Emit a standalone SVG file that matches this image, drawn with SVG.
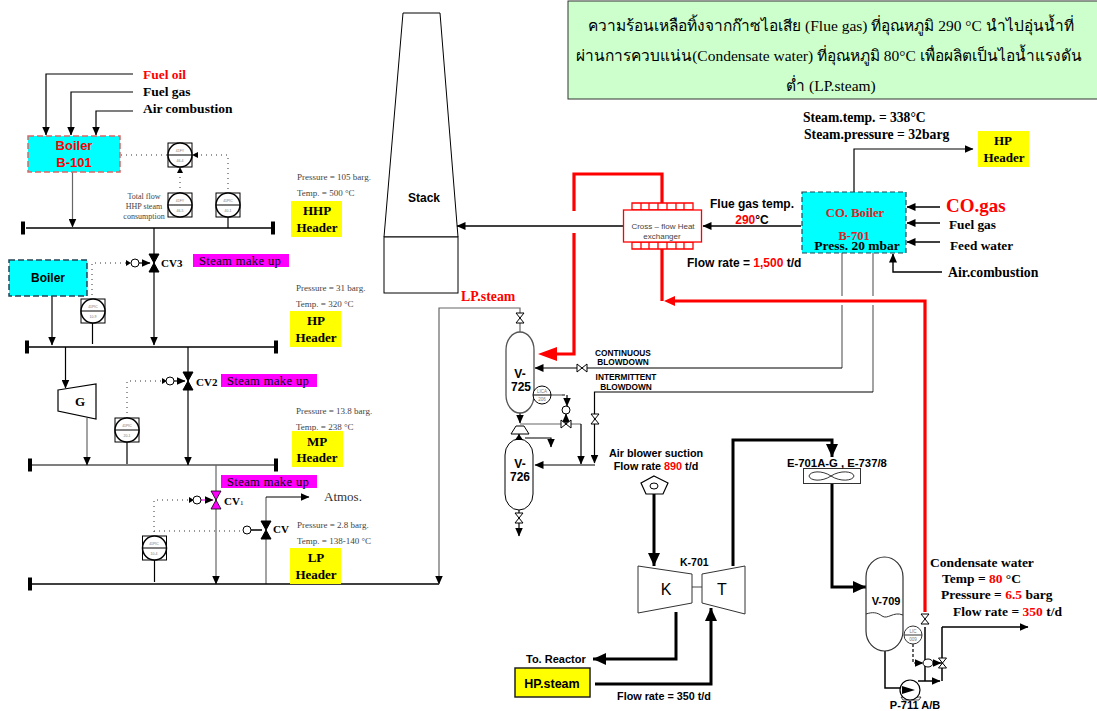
<svg xmlns="http://www.w3.org/2000/svg" width="1097" height="711" viewBox="0 0 1097 711">
<style>
text{font-family:"Liberation Serif",serif;fill:#000}
.a{font-family:"Liberation Sans",Arial,sans-serif;font-weight:700}
.s{font-family:"Liberation Serif",serif;font-weight:700}
.c{text-anchor:middle}
.r{fill:#f00}
.p{font-size:9px;fill:#444}
.h{font-size:13px;font-weight:700;text-anchor:middle}
.sm{font-size:12.5px;letter-spacing:.4px}
.l{fill:none;stroke:#000;stroke-width:1.2}
.g{fill:none;stroke:#666;stroke-width:1.2}
.b{fill:none;stroke:#000;stroke-width:3}
.rd{fill:none;stroke:#f00;stroke-width:3.2}
.d{fill:none;stroke:#333;stroke-width:1;stroke-dasharray:1 4}
.e{fill:#000;stroke:none}
.y{fill:#ff0}
.m{fill:#f0f}
.it{font-family:"Liberation Sans",sans-serif;font-size:3.5px;fill:#777;text-anchor:middle}
</style>
<defs>
<marker id="ah" markerWidth="10" markerHeight="8" refX="8.5" refY="4" orient="auto" markerUnits="userSpaceOnUse"><path d="M0,0L9,4L0,8Z"/></marker>
<marker id="ab" markerWidth="16" markerHeight="14" refX="13" refY="6" orient="auto" markerUnits="userSpaceOnUse"><path d="M0,0L13,6L0,12Z"/></marker>
<g id="inst"><rect x="-12" y="-12" width="24" height="24" fill="#fff" stroke="#000"/><circle r="12" fill="#fff" stroke="#000" stroke-width="1.500"/><path d="M-12,0H12" stroke="#000"/></g>
<g id="vv"><path d="M-5,-9L5,-9L-5,9L5,9Z" fill="#000" stroke="#000"/></g>
<g id="vw"><path d="M-4,-5L4,-5L-4,5L4,5Z" fill="#fff" stroke="#000"/></g>
<g id="end"><rect x="-2" y="-6.500" width="4" height="13" fill="#000"/></g>
</defs>
<rect width="1097" height="711" fill="#fff"/>

<g id="stack"><path d="M403,13H440L458,237H384Z" fill="#fff" stroke="#000"/><rect x="384" y="237" width="74" height="56" fill="#fff" stroke="#000"/><text class="a c" x="424" y="202" font-size="12">Stack</text></g>

<g id="connectors">
<path class="l" marker-end="url(#ah)" d="M133,74H46V135"/>
<path class="l" marker-end="url(#ah)" d="M133,92H71V135"/>
<path class="l" marker-end="url(#ah)" d="M133,111H96V135"/>
<path class="g" marker-end="url(#ah)" d="M72.500,172V227"/>
<path class="l" d="M228,217V228"/>
<path class="l" style="stroke-width:1.500" d="M26,228H271"/>
<path class="l" marker-end="url(#ah)" d="M154,228V345"/>
<path class="d" d="M228,189V155H193"/>
<path class="e" d="M192,155l6,-3v6z"/>
<path class="d" d="M180,193V168"/>
<path class="e" d="M180,167l3,6h-6z"/>
<path class="d" d="M167,155H113"/>
<path class="e" d="M111,155l6,-3v6z"/>
<path class="d" d="M92,300V263H127"/>
<path class="e" d="M131,263l-5,-3v6z"/>
<path class="l" marker-end="url(#ah)" d="M139,263H150"/>
<path class="l" marker-end="url(#ah)" d="M52,296V345"/>
<path class="l" d="M92.500,322V344"/>
<path class="l" style="stroke-width:1.500" d="M29,347H274"/>
<path class="l" marker-end="url(#ah)" d="M65.500,347V388"/>
<path class="g" marker-end="url(#ah)" d="M87,418V465"/>
<path class="l" d="M127,441V464"/>
<path class="d" d="M127,418V381H163"/>
<path class="e" d="M167,381l-5,-3v6z"/>
<path class="l" marker-end="url(#ah)" d="M174,381H185"/>
<path class="l" marker-end="url(#ah)" d="M188,347V465"/>
<path class="l" d="M32,465H274"/>
<path class="g" marker-end="url(#ah)" d="M216,465V584"/>
<path class="d" d="M154,537V500H190"/>
<path class="e" d="M194,500l-5,-3v6z"/>
<path class="l" marker-end="url(#ah)" d="M201,500H213" style="stroke:#f0f"/>
<path class="d" d="M154,531H241"/>
<path class="l" style="stroke-width:1.500" d="M251,530H262"/>
<path class="l" d="M154.500,559V582"/>
<path class="g" d="M266,584V497"/>
<path class="l" marker-end="url(#ah)" d="M266,497H309"/>
<path class="l" style="stroke-width:1.500" d="M32,584H439"/>
<path class="g" marker-end="url(#ah)" d="M520,332V308H439V584"/>
<path class="rd" d="M662,203V174H574V211"/>
<path class="rd" d="M574,233V354H556"/>
<path class="e" style="fill:#f00" d="M538,354L557,347V361Z"/>
<path class="rd" d="M662,249V301"/>
<path class="rd" d="M925,612V301H675"/>
<path class="e" style="fill:#f00" d="M664,301L675,296V306Z"/>
<path class="l" marker-end="url(#ah)" d="M623,226H457" style="stroke-width:1.400"/>
<path class="l" marker-end="url(#ah)" d="M801,226H703" style="stroke-width:1.400"/>
<path class="l" marker-end="url(#ah)" d="M854,192V149H973"/>
<path class="l" marker-end="url(#ah)" d="M940,207H907" style="stroke-width:1.400"/>
<path class="l" marker-end="url(#ah)" d="M940,223H907" style="stroke-width:1.400"/>
<path class="l" marker-end="url(#ah)" d="M940,242H907" style="stroke-width:1.400"/>
<path class="l" marker-end="url(#ah)" d="M942,272H893V254" style="stroke-width:1.400"/>
<path class="g" d="M842,253V296M873,253V296M842,305V368M873,305V392"/>
<path class="l" marker-end="url(#ah)" d="M842,368H535"/>
<path class="l" marker-end="url(#ah)" d="M873,392H594.500V463"/>
<path class="l" marker-end="url(#ah)" d="M595,465H535"/>
<path class="l" marker-end="url(#ah)" d="M520,413V423"/>
<path class="g" d="M520,424H581"/>
<path class="l" marker-end="url(#ah)" d="M581,424V464"/>
<path class="g" d="M551,395H562"/>
<path class="l" stroke-dasharray="3 2" marker-end="url(#ah)" d="M562,395H567V406"/>
<path class="l" marker-end="url(#ah)" d="M566,424V414"/>
<path class="l" marker-end="url(#ah)" d="M525,438H551V447"/>
<path class="l" d="M519,434V439"/>
<path class="l" marker-end="url(#ah)" d="M519,510V536"/>
<path class="b" marker-end="url(#ab)" d="M654,494V566"/>
<path class="b" marker-end="url(#ab)" d="M733,566V440H832V457"/>
<path class="b" marker-end="url(#ab)" d="M832,483V587H866"/>
<path class="b" marker-end="url(#ab)" d="M676,612V659H593"/>
<path class="b" marker-end="url(#ab)" d="M595,684H711V608"/>
<path class="g" d="M692,587H702"/>
<path class="l" style="stroke-width:1.500" d="M885,651V688H900"/>
<path class="l" style="stroke-width:1.500" marker-end="url(#ah)" d="M918,681H940"/>
<path class="l" style="stroke-width:1.500" d="M925,627V681M942,681V627"/>
<path class="l" style="stroke-width:1.500" marker-end="url(#ah)" d="M942,627H1028"/>
<path class="l" stroke-dasharray="3 2" marker-end="url(#ah)" d="M913,644V663H923"/>
<path class="l" marker-end="url(#ah)" d="M933,663H941"/>
</g>

<g id="boiler-b101"><rect x="28" y="136" width="92" height="36" fill="#0ff" stroke="#d66" stroke-width="1.500" stroke-dasharray="6 3"/><text class="a c r" x="74" y="150" font-size="13">Boiler</text><text class="a c r" x="74" y="167" font-size="13">B-101</text></g>
<g id="fuel-labels"><text class="s r" x="143" y="79" font-size="13.500">Fuel oil</text><text class="s" x="143" y="96" font-size="13.500">Fuel gas</text><text class="s" x="143" y="113" font-size="13.500">Air combustion</text></g>
<g id="fy-1"><use href="#inst" x="180" y="155"/><text class="it" x="180" y="152">41FY</text><text class="it" x="180" y="162">46-4</text></g>
<g id="fy-2"><use href="#inst" x="180" y="205"/><text class="it" x="180" y="202">41FY</text><text class="it" x="180" y="212">46-5</text></g>
<g id="pic-1"><use href="#inst" x="228" y="205"/><text class="it" x="228" y="202">41PIC</text><text class="it" x="228" y="212">40-1</text></g>
<g id="total-flow"><text class="c" x="144" y="199" font-size="8" style="fill:#444">Total flow</text><text class="c" x="144" y="209" font-size="8" style="fill:#444">HHP steam</text><text class="c" x="144" y="219" font-size="8" style="fill:#444">consumption</text></g>
<g id="hhp-header"><use href="#end" x="23" y="228"/><use href="#end" x="273" y="228"/><text class="p" x="297" y="180">Pressure = 105 barg.</text><text class="p" x="297" y="196">Temp. = 500 °C</text><rect class="y" x="291" y="201" width="51" height="36"/><text class="h" x="317" y="215">HHP</text><text class="h" x="317" y="232">Header</text></g>
<g id="cv3"><use href="#vv" x="154" y="263"/><circle cx="135" cy="263" r="4" fill="#fff" stroke="#000"/><text class="s" x="161" y="267" font-size="11">CV3</text><rect class="m" x="193" y="254" width="96" height="13"/><text class="sm" x="199" y="265">Steam make up</text></g>
<g id="boiler-2"><rect x="9" y="260" width="78" height="36" fill="#0ff" stroke="#245" stroke-width="1.500" stroke-dasharray="6 3"/><text class="a c" x="48" y="282" font-size="12">Boiler</text></g>
<g id="pic-2"><use href="#inst" x="93" y="311"/><text class="it" x="93" y="308">41PIC</text><text class="it" x="93" y="318">10-9</text></g>
<g id="hp-header"><use href="#end" x="27" y="347"/><use href="#end" x="276" y="347"/><text class="p" x="296" y="291">Pressure = 31 barg.</text><text class="p" x="296" y="307">Temp. = 320 °C</text><rect class="y" x="290" y="311" width="51" height="36"/><text class="h" x="316" y="325">HP</text><text class="h" x="316" y="342">Header</text></g>
<g id="turbine-g"><path d="M58,390L96,384V419L58,411Z" fill="#fff" stroke="#000" stroke-width="1.200"/><text class="s c" x="80" y="406" font-size="13">G</text></g>
<g id="pic-3"><use href="#inst" x="127" y="430"/><text class="it" x="127" y="427">41PIC</text><text class="it" x="127" y="437">20-1</text></g>
<g id="cv2"><use href="#vv" x="188" y="381"/><circle cx="170" cy="381" r="4" fill="#fff" stroke="#000"/><text class="s" x="196" y="386" font-size="11">CV2</text><rect class="m" x="221" y="374" width="96" height="13"/><text class="sm" x="227" y="385">Steam make up</text></g>
<g id="mp-header"><use href="#end" x="30" y="465"/><use href="#end" x="276" y="465"/><text class="p" x="296" y="414">Pressure = 13.8 barg.</text><text class="p" x="296" y="430">Temp. = 238 °C</text><rect class="y" x="292" y="431" width="51" height="36"/><text class="h" x="317" y="446">MP</text><text class="h" x="317" y="462">Header</text></g>
<g id="cv1"><path d="M211,491L221,491L211,509L221,509Z" fill="#f0f" stroke="#000" stroke-width=".8"/><circle cx="197" cy="500" r="4" fill="#fff" stroke="#000"/><text class="s" x="224" y="505" font-size="11">CV<tspan font-size="7" font-weight="400">1</tspan></text><rect class="m" x="221" y="475" width="96" height="13"/><text class="sm" x="227" y="486">Steam make up</text></g>
<g id="cv"><use href="#vv" x="266" y="530"/><circle cx="247" cy="530" r="4" fill="#fff" stroke="#000"/><text class="s" x="273" y="533" font-size="11">CV</text><text x="324" y="501" font-size="13" style="fill:#333">Atmos.</text></g>
<g id="pic-4"><use href="#inst" x="154.500" y="548"/><text class="it" x="154" y="545">41PIC</text><text class="it" x="154" y="555">10-4</text></g>
<g id="lp-header"><use href="#end" x="30" y="584"/><text class="p" x="297" y="528">Pressure = 2.8 barg.</text><text class="p" x="297" y="544">Temp. = 138-140 °C</text><rect class="y" x="290" y="548" width="51" height="36"/><text class="h" x="316" y="562">LP</text><text class="h" x="316" y="579">Header</text></g>

<g id="note"><rect x="568" y="1" width="532" height="98" fill="#cfc" stroke="#333" stroke-width="1"/><text class="c" x="831" y="31" font-size="15.500">ความร้อนเหลือทิ้งจากก๊าซไอเสีย (Flue gas) ที่อุณหภูมิ 290 °C นำไปอุ่นน้ำที่</text><text class="c" x="829" y="61" font-size="15.500">ผ่านการควบแน่น(Condensate water) ที่อุณหภูมิ 80°C เพื่อผลิตเป็นไอน้ำแรงดัน</text><text class="c" x="831" y="91" font-size="15.500">ต่ำ (LP.steam)</text></g>

<g id="heat-exchanger"><path d="M632,203H693V210H632ZM632,242H693V249H632ZM641,203V210M649,203V210M658,203V210M667,203V210M676,203V210M684,203V210M641,242V249M649,242V249M658,242V249M667,242V249M676,242V249M684,242V249" fill="#fff" stroke="#f00" stroke-width="1.300"/><rect x="623.500" y="210" width="78" height="32" fill="#fff" stroke="#f00" stroke-width="1.300"/><text class="c" x="663" y="229" font-size="8" style="font-family:'Liberation Sans',sans-serif;fill:#444">Cross – flow Heat</text><text class="c" x="662" y="239" font-size="8" style="font-family:'Liberation Sans',sans-serif;fill:#444">exchanger</text></g>
<g id="flue-labels"><text class="a c" x="752" y="208" font-size="12">Flue gas temp.</text><text class="a c" x="752" y="224" font-size="12"><tspan class="r">290</tspan>°C</text><text class="a" x="687" y="267" font-size="12">Flow rate = <tspan class="r">1,500</tspan> t/d</text></g>
<g id="co-boiler"><rect x="802" y="192" width="104" height="61" fill="#0ff" stroke="#245" stroke-width="1.200" stroke-dasharray="5 3"/><text class="s c" x="855" y="217" font-size="12.700" style="fill:#d22">CO. Boiler</text><text class="s c" x="854" y="240" font-size="12.500" style="fill:#d22">B-701</text><text class="s c" x="857" y="250" font-size="13.500">Press. 20 mbar</text></g>
<g id="co-labels"><text class="s r" x="946" y="212" font-size="19">CO.gas</text><text class="s" x="949" y="229" font-size="13.300">Fuel gas</text><text class="s" x="950" y="250" font-size="13.300">Feed water</text><text class="s" x="948" y="277" font-size="13.800">Air.combustion</text></g>
<g id="steam-labels"><text class="s" x="803" y="122" font-size="13.600">Steam.temp. = 338°C</text><text class="s" x="804" y="139" font-size="13.700">Steam.pressure = 32barg</text></g>
<g id="hp-header-2"><rect class="y" x="978" y="131" width="51" height="36"/><text class="h" x="1003" y="145">HP</text><text class="h" x="1004" y="162">Header</text></g>

<g id="v-725"><rect x="506" y="332" width="28" height="81" rx="14" ry="18" fill="#fff" stroke="#555" stroke-width="1.300"/><text class="a c" x="520" y="378" font-size="12">V-</text><text class="a c" x="521" y="391" font-size="12">725</text><use href="#vw" x="520" y="318"/><text class="s r" x="461" y="301" font-size="13.800">LP.steam</text></g>
<g id="lica"><circle cx="542" cy="395" r="9" fill="#fff" stroke="#000"/><path d="M533,395H551" stroke="#000"/><text class="it" x="542" y="393" style="font-size:4.500px">LICA</text><text class="it" x="542" y="401" style="font-size:4.500px">206</text><circle cx="566" cy="410" r="4" fill="#fff" stroke="#000"/><use href="#vw" transform="translate(566,424) rotate(90)"/></g>
<g id="blowdown"><use href="#vw" transform="translate(582,368) rotate(90)"/><use href="#vw" x="595" y="419"/><text class="a c" x="623" y="356" font-size="8.300">CONTINUOUS</text><text class="a c" x="623" y="365" font-size="8.300">BLOWDOWN</text><text class="a c" x="626" y="380" font-size="8.300">INTERMITTENT</text><text class="a c" x="626" y="390" font-size="8.300">BLOWDOWN</text></g>
<g id="separator"><path d="M516,426H524L529,434H511Z" fill="#fff" stroke="#000"/></g>
<g id="v-726"><rect x="505" y="439" width="28" height="71" rx="14" ry="16" fill="#fff" stroke="#000"/><text class="a c" x="520" y="468" font-size="12">V-</text><text class="a c" x="520" y="481" font-size="12">726</text><use href="#vw" x="519" y="518"/><path class="e" d="M519,434l4,6h-8z"/></g>

<g id="air-blower"><path d="M654,476L668,483L663,494H646L641,483Z" fill="#fff" stroke="#000" stroke-width="1.200"/><ellipse cx="654" cy="486" rx="4" ry="3" fill="none" stroke="#000"/><text class="a c" x="656" y="457" font-size="10.800">Air blower suction</text><text class="a c" x="656" y="470" font-size="10.800">Flow rate <tspan class="r">890</tspan> t/d</text></g>
<g id="k-701"><path d="M638,566L692,574V603L638,613Z" fill="#fff" stroke="#333"/><text class="c" x="666" y="595" font-size="16" style="font-family:'Liberation Sans',sans-serif">K</text><text class="a" x="680" y="566" font-size="10.500">K-701</text></g>
<g id="t-701"><path d="M702,574L745,566V614L702,603Z" fill="#fff" stroke="#333"/><text class="c" x="722" y="595" font-size="16" style="font-family:'Liberation Sans',sans-serif">T</text></g>
<g id="hp-steam"><rect x="515" y="668" width="75" height="29" fill="#ff0" stroke="#222" stroke-width="1.500"/><text class="a c" x="552" y="688" font-size="12.500">HP.steam</text><text class="a" x="526" y="663" font-size="11">To. Reactor</text><text class="a c" x="664" y="700" font-size="10.800">Flow rate = 350 t/d</text></g>
<g id="e-701"><rect x="803.500" y="468.500" width="57" height="15" fill="#fff" stroke="#333"/><path d="M831,476C822,470 810,471 809,476C810,481 822,482 831,476C840,470 853,471 854,476C853,481 840,482 831,476Z" fill="none" stroke="#000" stroke-width=".8"/><text class="a" x="787" y="467" font-size="11.300">E-701A-G , E-737/8</text></g>
<g id="v-709"><rect x="866" y="557" width="37" height="94" rx="18.500" ry="20" fill="#fff" stroke="#333" stroke-width="1.200"/><path d="M866,614C872,612 877,612 882,616C888,620 893,611 903,615" fill="none" stroke="#333"/><text class="a c" x="886" y="605" font-size="11">V-709</text></g>
<g id="lic"><circle cx="913" cy="635" r="9" fill="#fff" stroke="#333"/><path d="M904,635H922" stroke="#333"/><text class="it" x="913" y="633" style="font-size:4.500px">LIC</text><text class="it" x="913" y="641" style="font-size:4.500px">009</text><ellipse cx="928" cy="663" rx="5" ry="4" fill="#fff" stroke="#000"/><use href="#vw" x="925" y="619"/><use href="#vw" x="942.500" y="663"/></g>
<g id="p-711"><path d="M903,700L901,697H921L919,700Z" fill="#fff" stroke="#000" stroke-width=".7"/><circle cx="910" cy="690" r="10" fill="#fff" stroke="#000" stroke-width="1.200"/><path class="e" d="M915,690L902,686V694Z"/><text class="a c" x="915" y="709" font-size="11">P-711 A/B</text></g>
<g id="condensate"><text class="s" x="930" y="567" font-size="13.500">Condensate water</text><text class="s" x="942" y="583" font-size="13.500">Temp = <tspan class="r">80</tspan> °C</text><text class="s" x="941" y="599" font-size="13.500">Pressure = <tspan class="r">6.5</tspan> barg</text><text class="s" x="953" y="616" font-size="13.500">Flow rate = <tspan class="r">350</tspan> t/d</text></g>
</svg>
